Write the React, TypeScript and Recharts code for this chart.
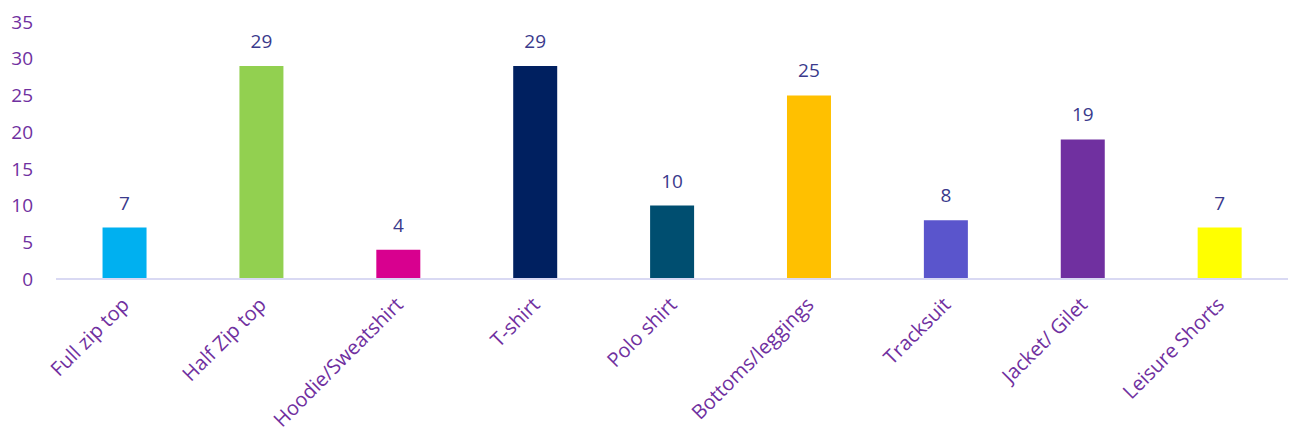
import React from 'react';
import { BarChart, Bar, XAxis, YAxis, Cell, LabelList } from 'recharts';

const categories = ['Full zip top', 'Half Zip top', 'Hoodie/Sweatshirt', 'T-shirt', 'Polo shirt', 'Bottoms/leggings', 'Tracksuit', 'Jacket/ Gilet', 'Leisure Shorts'];
const values = [7, 29, 4, 29, 10, 25, 8, 19, 7];
const colors = ['#00B0F0', '#92D050', '#D8008F', '#002060', '#004E70', '#FFC000', '#5A55CC', '#7030A0', '#FFFF00'];
const yTicks = [0, 5, 10, 15, 20, 25, 30, 35];

const data = categories.map((name, i) => ({ name, value: values[i] }));

const FONT = '"Open Sans", sans-serif';

const XTick = (props: any) => {
  const { x, y, payload } = props;
  const ax = x + 6;
  const ay = y + 19;
  return (
    <text x={ax} y={ay} transform={`rotate(-45, ${ax}, ${ay})`} textAnchor="end" fill="#7030A0" fontSize={20} fontFamily={FONT}>
      {payload.value}
    </text>
  );
};

export default function App() {
  return (
    <div style={{ position: 'absolute', left: 0, top: 0 }}>
      <BarChart width={1289} height={439} data={data} margin={{ top: 22, right: 1, bottom: 0, left: 0 }} barCategoryGap="34%">
        <XAxis dataKey="name" interval={0} height={160} tickLine={false} axisLine={{ stroke: '#D9D9F3', strokeWidth: 2 }} tick={<XTick />} />
        <YAxis width={56} domain={[0, 35]} ticks={yTicks} tickLine={false} axisLine={false} tickSize={0} tickMargin={23}
          tick={{ fill: '#7030A0', fontSize: 19, fontFamily: FONT }} />
        <Bar dataKey="value" isAnimationActive={false}>
          {data.map((d, i) => <Cell key={d.name} fill={colors[i]} />)}
          <LabelList dataKey="value" position="top" offset={18} fill="#3A3A8C" fontSize={19} fontFamily={FONT} />
        </Bar>
      </BarChart>
    </div>
  );
}
